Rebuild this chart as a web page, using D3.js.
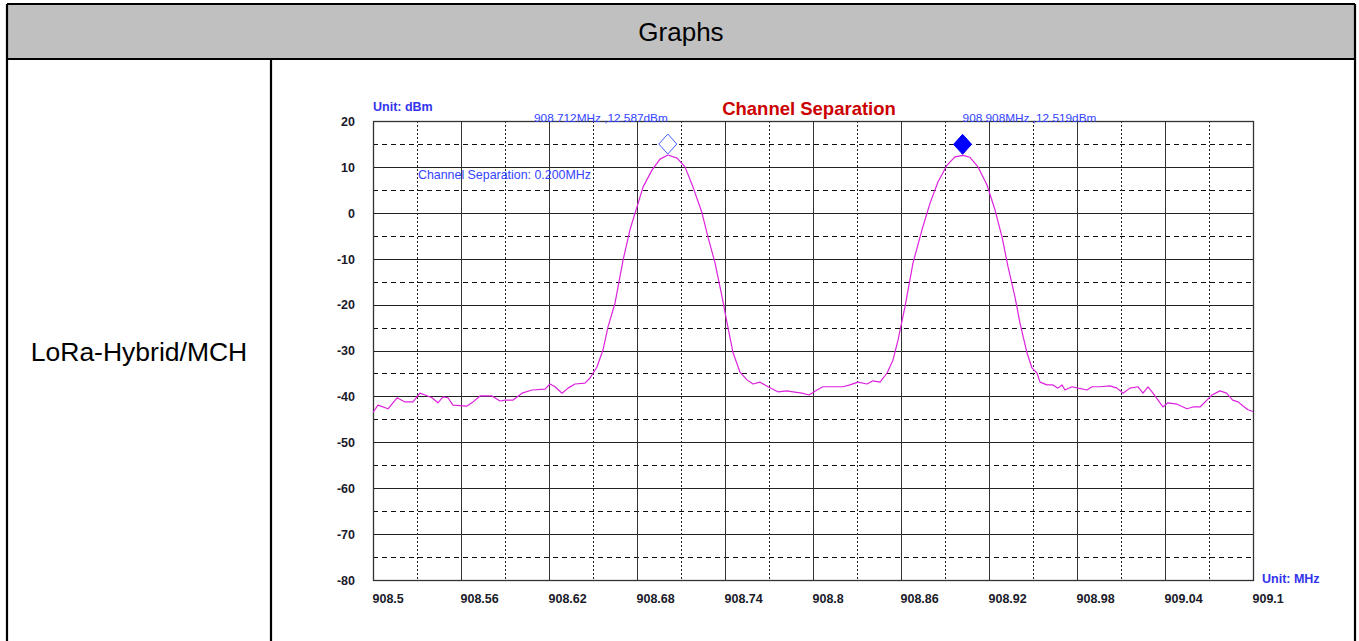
<!DOCTYPE html>
<html>
<head>
<meta charset="utf-8">
<script src="https://cdn.jsdelivr.net/npm/d3@7"></script>
<style>
  html, body { margin: 0; padding: 0; background: #fff; }
  svg { display: block; font-family: Arial, "Liberation Sans", sans-serif; }
</style>
</head>
<body>
<svg id="page" width="1359" height="641"></svg>
<script>
// tick values
const freqTicks = [908.5, 908.56, 908.62, 908.68, 908.74, 908.8, 908.86, 908.92, 908.98, 909.04, 909.1];
const dbmTicks = [20, 10, 0, -10, -20, -30, -40, -50, -60, -70, -80];

// trace, MHz / dBm
const traceFreq = [
  908.5000, 908.5034, 908.5102, 908.5164, 908.5218, 908.5273, 908.5320, 908.5355, 908.5402, 908.5443,
  908.5477, 908.5511, 908.5545, 908.5641, 908.5682, 908.5730, 908.5811, 908.5866, 908.5900, 908.5955,
  908.6016, 908.6084, 908.6173, 908.6207, 908.6241, 908.6289, 908.6330, 908.6377, 908.6445, 908.6480,
  908.6527, 908.6568, 908.6602, 908.6650, 908.6705, 908.6752, 908.6800, 908.6841, 908.6902, 908.6957,
  908.7011, 908.7073, 908.7127, 908.7182, 908.7243, 908.7284, 908.7332, 908.7380, 908.7414, 908.7455,
  908.7502, 908.7550, 908.7591, 908.7639, 908.7693, 908.7761, 908.7823, 908.7864, 908.7925, 908.7973,
  908.8027, 908.8068, 908.8136, 908.8205, 908.8252, 908.8307, 908.8368, 908.8409, 908.8457, 908.8505,
  908.8545, 908.8580, 908.8627, 908.8682, 908.8743, 908.8798, 908.8852, 908.8914, 908.8968, 908.9023,
  908.9070, 908.9125, 908.9186, 908.9241, 908.9289, 908.9330, 908.9377, 908.9411, 908.9459, 908.9493,
  908.9527, 908.9548, 908.9595, 908.9636, 908.9670, 908.9698, 908.9718, 908.9766, 908.9807, 908.9868,
  908.9902, 908.9957, 909.0025, 909.0073, 909.0114, 909.0161, 909.0216, 909.0250, 909.0284, 909.0318,
  909.0366, 909.0386, 909.0420, 909.0482, 909.0550, 909.0591, 909.0639, 909.0686, 909.0720, 909.0775,
  909.0820, 909.0861, 909.0898, 909.0932, 909.0966, 909.1000
];
const traceDbm = [
  -43.5, -41.9, -42.7, -40.3, -41.2, -41.2, -39.3, -39.7, -40.3, -41.4,
  -40.1, -40.3, -41.9, -42.1, -41.2, -39.9, -39.9, -41.0, -40.8, -40.8,
  -39.3, -38.6, -38.4, -37.3, -37.9, -39.3, -38.2, -37.3, -37.1, -36.0,
  -33.6, -29.9, -24.9, -19.7, -10.3, -3.7, 1.3, 5.6, 9.3, 11.7,
  12.6, 11.9, 10.0, 5.6, 0.0, -5.3, -10.9, -18.3, -24.0, -30.5,
  -34.7, -36.4, -37.3, -36.9, -37.9, -39.0, -38.8, -39.0, -39.3, -39.7,
  -38.6, -37.9, -37.9, -37.9, -37.5, -36.9, -37.3, -36.6, -36.9, -34.9,
  -32.1, -27.7, -20.5, -10.9, -3.7, 2.1, 6.7, 10.4, 12.2, 12.5,
  12.1, 10.0, 6.1, 0.6, -5.3, -11.8, -18.3, -24.0, -30.5, -33.8,
  -34.9, -36.9, -37.5, -37.5, -38.2, -37.5, -38.6, -37.9, -38.2, -38.6,
  -37.9, -37.9, -37.7, -38.2, -39.3, -38.2, -37.9, -39.3, -37.9, -39.3,
  -41.4, -42.3, -41.4, -41.7, -42.7, -42.3, -42.3, -40.8, -39.7, -38.8,
  -39.3, -40.8, -41.2, -42.1, -42.9, -43.3
];

// markers
const markerFreq = [908.701, 908.902];
const markerDbm = [12.587, 12.519];
const markerText = ["908.712MHz ,12.587dBm", "908.908MHz ,12.519dBm"];
const markerFilled = [false, true];

const rowLabel = "LoRa-Hybrid/MCH";
const headerText = "Graphs";

const svg = d3.select("#page");

// ---- table ----
const tbl = {left: 7, top: 4, right: 1355, headerBottom: 59, divider: 271, bottom: 660};
svg.append("rect")
    .attr("x", tbl.left).attr("y", tbl.top)
    .attr("width", tbl.right - tbl.left).attr("height", tbl.headerBottom - tbl.top)
    .attr("fill", "#c0c0c0");

const borders = [
  [tbl.left, tbl.top, tbl.right, tbl.top],
  [tbl.left, tbl.headerBottom, tbl.right, tbl.headerBottom],
  [tbl.left, tbl.top, tbl.left, tbl.bottom],
  [tbl.right, tbl.top, tbl.right, tbl.bottom],
  [tbl.divider, tbl.headerBottom, tbl.divider, tbl.bottom]
];
svg.append("g").selectAll("line")
    .data(borders)
    .join("line")
    .attr("x1", d => d[0]).attr("y1", d => d[1])
    .attr("x2", d => d[2]).attr("y2", d => d[3])
    .attr("stroke", "#000")
    .attr("stroke-width", 2.2);

svg.append("text")
    .attr("x", (tbl.left + tbl.right) / 2).attr("y", 41)
    .attr("text-anchor", "middle")
    .attr("font-size", 26)
    .attr("fill", "#000")
    .text(headerText);

svg.append("text")
    .attr("x", (tbl.left + tbl.divider) / 2).attr("y", 361)
    .attr("text-anchor", "middle")
    .attr("font-size", 26.5)
    .attr("fill", "#000")
    .text(rowLabel);

// ---- chart ----
const plot = {left: 373, right: 1253, top: 121, bottom: 580};

const xScale = d3.scaleLinear()
    .domain([908.5, 909.1])
    .range([plot.left, plot.right]);

const yScale = d3.scaleLinear()
    .domain([-80, 20])
    .range([plot.bottom, plot.top]);

const chart = svg.append("g");

// minor grid: dashed horizontals at every 5 dB, dotted verticals at half steps
const halfDbm = d3.range(15, -80, -10);
chart.append("g").selectAll("line")
    .data(halfDbm)
    .join("line")
    .attr("x1", plot.left).attr("x2", plot.right)
    .attr("y1", d => Math.round(yScale(d)) + 0.5).attr("y2", d => Math.round(yScale(d)) + 0.5)
    .attr("stroke", "#111")
    .attr("stroke-dasharray", "5,4");

const halfFreq = freqTicks.slice(0, -1).map(f => f + 0.03);
chart.append("g").selectAll("line")
    .data(halfFreq)
    .join("line")
    .attr("x1", d => Math.round(xScale(d)) + 0.5).attr("x2", d => Math.round(xScale(d)) + 0.5)
    .attr("y1", plot.top).attr("y2", plot.bottom)
    .attr("stroke", "#222")
    .attr("stroke-dasharray", "2,2");

// major grid
chart.append("g").selectAll("line")
    .data(dbmTicks.slice(1, -1))
    .join("line")
    .attr("x1", plot.left).attr("x2", plot.right)
    .attr("y1", d => Math.round(yScale(d)) + 0.5).attr("y2", d => Math.round(yScale(d)) + 0.5)
    .attr("stroke", "#222");

chart.append("g").selectAll("line")
    .data(freqTicks.slice(1, -1))
    .join("line")
    .attr("x1", d => Math.round(xScale(d)) + 0.5).attr("x2", d => Math.round(xScale(d)) + 0.5)
    .attr("y1", plot.top).attr("y2", plot.bottom)
    .attr("stroke", "#333");

chart.append("rect")
    .attr("x", plot.left + 0.5).attr("y", plot.top + 0.5)
    .attr("width", plot.right - plot.left).attr("height", plot.bottom - plot.top)
    .attr("fill", "none")
    .attr("stroke", "#333")
    .attr("stroke-width", 1.3);

// axes
const yAxis = chart.append("g")
    .attr("transform", `translate(${plot.left - 18},0)`)
    .call(d3.axisLeft(yScale).tickValues(dbmTicks).tickSize(0).tickPadding(0).tickFormat(d => String(d)));
yAxis.select(".domain").remove();
yAxis.selectAll("text")
    .attr("font-family", "Arial, 'Liberation Sans', sans-serif")
    .attr("font-size", 12.5).attr("font-weight", "bold").attr("fill", "#1a1a2a")
    .attr("dy", "0.35em");

const xAxis = chart.append("g")
    .attr("transform", `translate(0,${plot.bottom})`)
    .call(d3.axisBottom(xScale).tickValues(freqTicks).tickSize(0).tickPadding(0).tickFormat(d => String(+d.toFixed(2))));
xAxis.select(".domain").remove();
xAxis.selectAll("text")
    .attr("font-family", "Arial, 'Liberation Sans', sans-serif")
    .attr("font-size", 12.5).attr("font-weight", "bold").attr("fill", "#1a1a2a")
    .attr("text-anchor", "start")
    .attr("x", -1)
    .attr("y", 23)
    .attr("dy", 0);

// trace
const trace = traceFreq.map((f, i) => [f, traceDbm[i]]);
chart.append("path")
    .datum(trace)
    .attr("fill", "none")
    .attr("stroke", "#dd22dd")
    .attr("stroke-width", 1.2)
    .attr("stroke-linejoin", "round")
    .attr("d", d3.line().x(d => xScale(d[0])).y(d => yScale(d[1])));

// markers: diamond sitting right on the peak
const markers = markerFreq.map((f, i) => ({f, v: markerDbm[i], filled: markerFilled[i], label: markerText[i], side: i}));
chart.append("g").selectAll("path")
    .data(markers)
    .join("path")
    .attr("transform", d => `translate(${xScale(d.f)},${yScale(d.v) - 11})`)
    .attr("d", "M0,-10L9,0L0,10L-9,0Z")
    .attr("fill", d => d.filled ? "#0000ff" : "#fff")
    .attr("stroke", d => d.filled ? "#0000ff" : "#4060ff")
    .attr("stroke-width", 1);

// first label ends at its marker, second starts at it
chart.append("g").selectAll("text")
    .data(markers)
    .join("text")
    .attr("x", d => xScale(d.f))
    .attr("y", plot.top + 1)
    .attr("text-anchor", d => d.side === 0 ? "end" : "start")
    .attr("font-size", 11.8)
    .attr("fill", "#3344ff")
    .text(d => d.label);

// labels
chart.append("text")
    .attr("x", 809).attr("y", 115)
    .attr("text-anchor", "middle")
    .attr("font-size", 18.5).attr("font-weight", "bold")
    .attr("fill", "#cc0000")
    .text("Channel Separation");

chart.append("text")
    .attr("x", plot.left).attr("y", 111)
    .attr("font-size", 12.5).attr("font-weight", "bold")
    .attr("fill", "#3333ee")
    .text("Unit: dBm");

chart.append("text")
    .attr("x", plot.right + 9).attr("y", 583)
    .attr("font-size", 12.5).attr("font-weight", "bold")
    .attr("fill", "#3333ee")
    .text("Unit: MHz");

chart.append("text")
    .attr("x", 418).attr("y", 179)
    .attr("font-size", 12.4)
    .attr("fill", "#3344ff")
    .text("Channel Separation: 0.200MHz");
</script>
</body>
</html>
